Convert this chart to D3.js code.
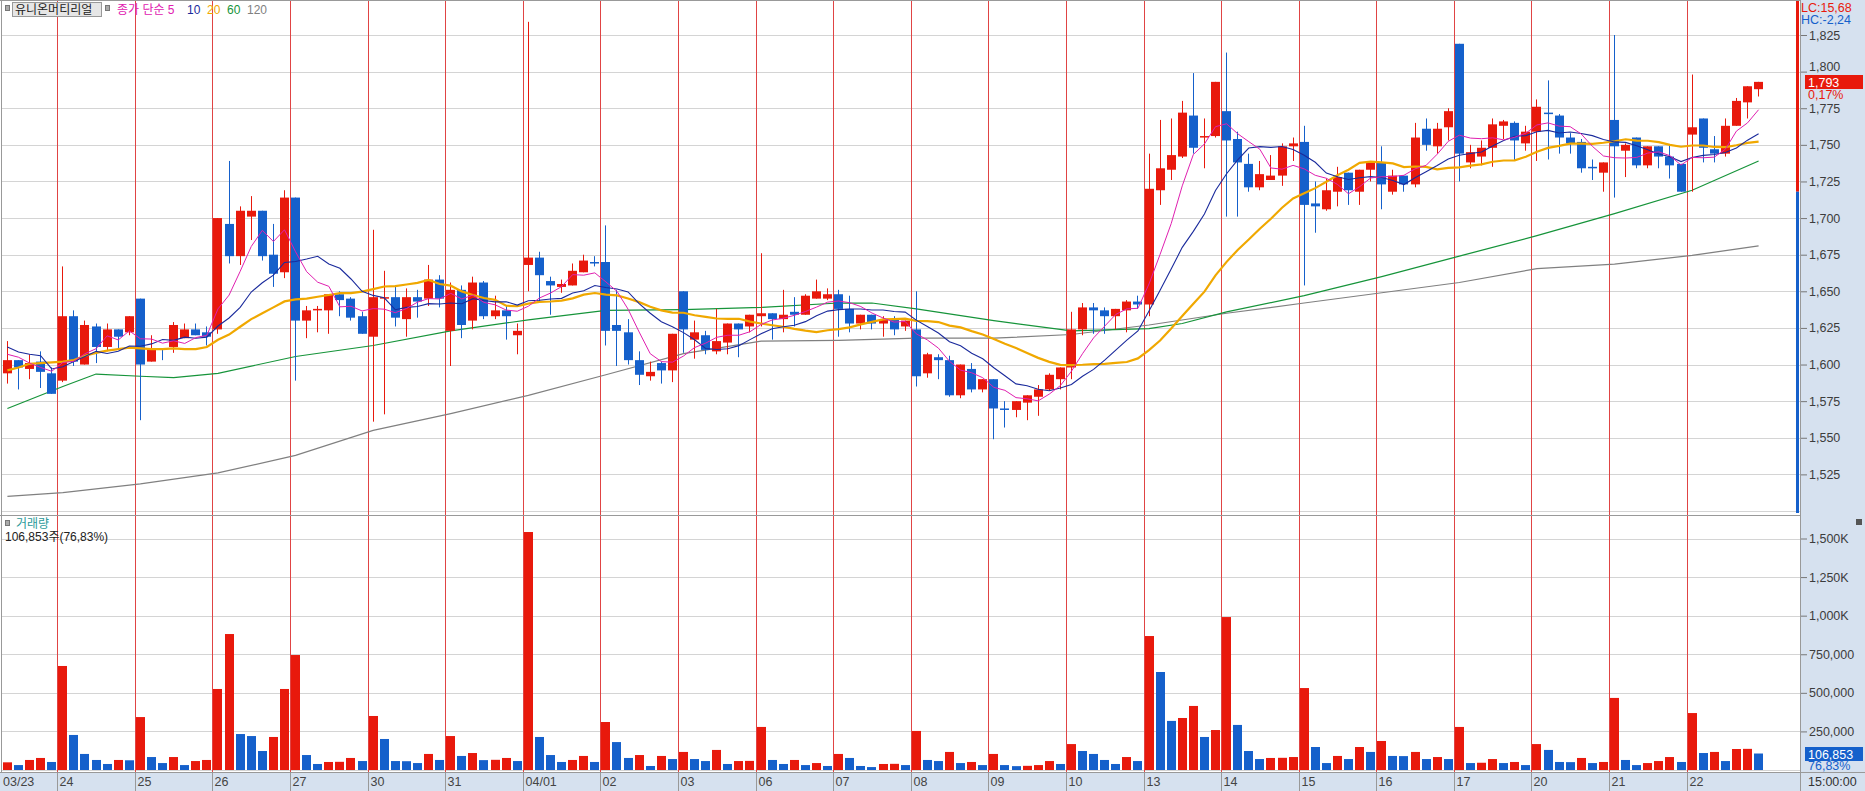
<!DOCTYPE html>
<html><head><meta charset="utf-8">
<script src="https://cdn.jsdelivr.net/npm/d3@7"></script>
<style>
html,body{margin:0;padding:0;background:#fff;overflow:hidden}
svg{display:block}
text{font-family:"Liberation Sans","Noto Sans CJK KR",sans-serif}
</style></head><body>
<svg id="c" width="1865" height="791"></svg>
<script>
// ---------------- DATA ----------------
const stockName = "유니온머티리얼";
const opens  = [1594,1603,1597,1602,1594,1589,1633,1600,1626,1612,1624,1622,1645,1602,1611,1612,1618,1624,1622,1624,1696,1674,1701,1705,1675,1663,1714,1630,1637,1637,1648,1645,1633,1619,1645,1646,1631,1646,1645,1658,1623,1651,1630,1656,1633,1637,1620,1668,1673,1657,1653,1654,1663,1670,1670,1627,1622,1603,1592,1601,1596,1650,1617,1620,1609,1615,1628,1626,1633,1635,1631,1636,1634,1645,1645,1648,1638,1628,1634,1628,1631,1626,1624,1594,1605,1603,1579,1597,1583,1590,1570,1569,1574,1578,1583,1590,1598,1624,1639,1637,1633,1637,1643,1641,1719,1733,1742,1770,1756,1756,1773,1754,1737,1721,1726,1729,1749,1752,1710,1706,1718,1731,1718,1733,1738,1718,1729,1723,1761,1749,1762,1819,1738,1742,1748,1763,1765,1751,1759,1772,1770,1755,1752,1735,1731,1767,1746,1755,1736,1749,1742,1737,1757,1768,1747,1744,1763,1779,1788];
const highs  = [1616,1603,1607,1609,1598,1667,1637,1630,1628,1628,1624,1633,1645,1620,1611,1629,1628,1628,1626,1700,1739,1708,1715,1705,1696,1719,1714,1640,1640,1648,1650,1646,1636,1692,1664,1654,1652,1651,1668,1661,1656,1654,1660,1657,1647,1640,1628,1834,1677,1660,1658,1669,1675,1674,1695,1651,1631,1609,1602,1602,1621,1650,1630,1623,1638,1628,1628,1634,1676,1635,1651,1646,1648,1658,1652,1651,1647,1634,1634,1633,1633,1630,1650,1608,1607,1606,1600,1601,1590,1590,1575,1575,1579,1586,1594,1598,1636,1642,1642,1639,1638,1644,1647,1744,1767,1768,1780,1799,1768,1793,1813,1759,1744,1739,1743,1751,1755,1763,1725,1727,1735,1731,1733,1738,1749,1733,1729,1765,1768,1765,1775,1819,1750,1753,1768,1767,1766,1763,1781,1794,1771,1758,1754,1740,1738,1825,1751,1755,1749,1749,1750,1737,1798,1768,1756,1768,1782,1790,1793];
const lows   = [1587,1583,1590,1584,1580,1588,1599,1600,1601,1609,1610,1620,1562,1602,1603,1608,1618,1620,1613,1621,1669,1668,1685,1671,1653,1659,1589,1618,1622,1621,1633,1630,1621,1561,1566,1626,1619,1632,1640,1639,1599,1618,1624,1631,1631,1617,1607,1650,1643,1634,1649,1654,1663,1667,1613,1599,1600,1586,1589,1587,1588,1608,1604,1607,1607,1607,1605,1622,1626,1617,1622,1626,1634,1645,1644,1619,1622,1624,1624,1619,1620,1623,1585,1591,1590,1578,1577,1581,1581,1549,1557,1564,1562,1565,1582,1583,1590,1620,1621,1621,1624,1622,1638,1633,1709,1726,1741,1744,1734,1755,1701,1701,1718,1719,1726,1722,1739,1654,1690,1705,1708,1709,1709,1725,1706,1716,1718,1721,1746,1744,1753,1725,1734,1736,1735,1754,1739,1746,1739,1740,1744,1744,1731,1726,1718,1714,1728,1734,1734,1734,1727,1718,1718,1738,1738,1742,1763,1768,1783];
const closes = [1603,1598,1601,1595,1580,1633,1602,1627,1612,1624,1619,1633,1600,1611,1610,1627,1624,1620,1619,1700,1674,1705,1705,1674,1662,1714,1630,1637,1638,1648,1644,1632,1621,1646,1646,1632,1646,1643,1658,1645,1651,1627,1656,1633,1637,1633,1623,1673,1661,1654,1655,1664,1671,1669,1623,1623,1603,1593,1595,1596,1621,1624,1622,1610,1616,1628,1624,1634,1635,1631,1634,1634,1647,1650,1648,1638,1628,1634,1628,1631,1624,1630,1592,1607,1603,1579,1600,1583,1590,1570,1569,1575,1579,1583,1593,1598,1624,1639,1637,1633,1638,1643,1641,1720,1734,1743,1772,1748,1756,1793,1753,1738,1721,1730,1729,1749,1751,1709,1708,1719,1728,1719,1733,1738,1723,1729,1723,1755,1750,1761,1773,1744,1745,1748,1764,1766,1753,1759,1776,1771,1755,1751,1734,1734,1738,1749,1750,1736,1749,1742,1736,1718,1762,1748,1744,1763,1780,1790,1793];
const volumes = [49700,32000,65000,78000,52000,674000,227000,104000,65000,39000,65000,63000,343000,84000,45000,84000,32000,58000,65000,525000,881000,233000,220000,123000,214000,525000,745000,97000,39000,52000,53000,78000,58000,350000,201000,58000,57000,45000,104000,65000,220000,91000,110000,64000,66000,78000,58000,1542000,214000,97000,52000,65000,91000,52000,311000,181000,78000,97000,26000,91000,71000,117000,71000,58000,130000,39000,58000,59000,279000,65000,39000,65000,32000,45000,26000,104000,78000,26000,19000,39000,40000,32000,253000,65000,58000,117000,45000,52000,32000,104000,32000,25000,27000,32000,58000,39000,168000,123000,104000,65000,39000,84000,58000,868000,635000,318000,337000,415000,214000,259000,991000,292000,123000,71000,78000,79000,84000,531000,149000,45000,91000,71000,149000,117000,188000,91000,90000,117000,71000,84000,71000,279000,45000,47000,71000,45000,52000,32000,168000,130000,52000,51000,78000,45000,52000,467000,65000,32000,45000,58000,84000,52000,369000,110000,117000,58000,136000,137000,106853];
// moving-average values for the first candles (their window starts before the chart)
const ma5Lead  = [1607,1605,1601,1598];
const ma10Lead = [1612,1608.5,1607,1606,1597,1598.5,1602,1605.5,1609];
const ma20Lead = [1596,1598,1600.5,1601,1601.5,1602,1603,1606,1608,1609.5,1610.5,1611.5,1611,1610.5,1610.5,1611,1610.5,1610.5,1612];
// long moving averages (candle index -> value)
const ma60Idx  = [0,5,8,12,15,19,26,33,40,47,54,61,68,75,78,82,89,96,103,106,110,117,124,131,138,145,152,158];
const ma60Val  = [1570,1585,1593.5,1592,1591,1594,1605.5,1613,1623,1630.5,1637,1637.5,1639,1642,1642,1638,1630,1623,1624.5,1628,1636,1647,1660,1674,1688,1703,1719,1739];
const ma120Idx = [0,5,12,19,26,33,40,47,54,61,68,75,82,89,96,103,110,117,124,131,138,145,152,158];
const ma120Val = [1510,1512.5,1518.5,1526,1538,1555,1566.5,1579,1593,1607.5,1616,1616.5,1618,1618,1620.5,1627,1635,1642,1649,1656,1665.5,1668.5,1674.5,1681];
const dayLabels = ["03/23","24","25","26","27","30","31","04/01","02","03","06","07","08","09","10","13","14","15","16","17","20","21","22"];
const dayCounts = [5,7,7,7,7,7,7,7,7,7,7,7,7,7,7,7,7,7,7,7,7,7,7];
const priceTicks = [1525,1550,1575,1600,1625,1650,1675,1700,1725,1750,1775,1800,1825];
const priceTickLabels = ["1,525","1,550","1,575","1,600","1,625","1,650","1,675","1,700","1,725","1,750","1,775","1,800","1,825"];
const volTicks = [250000,500000,750000,1000000,1250000,1500000];
const volTickLabels = ["250,000","500,000","750,000","1,000K","1,250K","1,500K"];
const maLegend = [["종가 단순 5","#e020b0"],["10","#1a2a9c"],["20","#f0a800"],["60","#16943a"],["120","#808080"]];
const lastPriceLabel = "1,793", lastChangeLabel = "0,17%";
const lcLabel = "LC:15,68", hcLabel = "HC:-2,24";
const volHeader = "거래량", volInfo = "106,853주(76,83%)";
const lastVolLabel = "106,853", lastVolPct = "76,83%";
const timeLabel = "15:00:00";

// ---------------- CHART ----------------
const RED = "#e8190c", BLUE = "#1560cb", AXISBG = "#d6e1ef", GRID = "#d4d4d4", SEP = "#e04444";
const PLOT_R = 1800;
const svg = d3.select("#c");
svg.append("rect").attr("width",1865).attr("height",791).attr("fill","#fff");
svg.append("rect").attr("x",PLOT_R).attr("y",0).attr("width",65).attr("height",791).attr("fill",AXISBG);

const n = closes.length;
const x = d3.scaleLinear().domain([0, n-1]).range([7.4, 1758.6]);
const y = d3.scaleLinear().domain([1500, 1825]).range([511, 35]);
const yv = d3.scaleLinear().domain([0, 1500000]).range([770, 538.5]);
const bx = i => Math.round(x(i) - 4.5);

// grids
const gGrid = svg.append("g");
gGrid.selectAll("line.pg").data(d3.range(1500, 1826, 25)).join("line")
  .attr("x1",2).attr("x2",PLOT_R).attr("y1",d=>Math.round(y(d))+0.5).attr("y2",d=>Math.round(y(d))+0.5)
  .attr("stroke",GRID);
gGrid.selectAll("line.vg").data([0].concat(volTicks)).join("line")
  .attr("x1",2).attr("x2",PLOT_R).attr("y1",d=>Math.round(yv(d))+0.5).attr("y2",d=>Math.round(yv(d))+0.5)
  .attr("stroke",GRID);

// day separators
const dayStarts = [];
dayCounts.reduce((acc,c)=>{dayStarts.push(acc); return acc+c;},0);
const sepX = s => bx(s) - 0.5;
svg.append("g").selectAll("line").data(dayStarts.slice(1)).join("line")
  .attr("x1",sepX).attr("x2",sepX).attr("y1",1).attr("y2",772)
  .attr("stroke",SEP).attr("stroke-width",1);

// panel borders
svg.append("line").attr("x1",0).attr("x2",PLOT_R).attr("y1",0.5).attr("y2",0.5).attr("stroke","#999");
svg.append("line").attr("x1",1.5).attr("x2",1.5).attr("y1",0).attr("y2",772).attr("stroke","#999");
svg.append("line").attr("x1",0).attr("x2",PLOT_R).attr("y1",515.5).attr("y2",515.5).attr("stroke","#999");
svg.append("line").attr("x1",PLOT_R+0.5).attr("x2",PLOT_R+0.5).attr("y1",0).attr("y2",791).attr("stroke","#999");

// long MAs (behind candles)
const line = d3.line().x(d=>x(d[0])).y(d=>y(d[1]));
svg.append("path").attr("d", line(ma120Idx.map((k,j)=>[k,ma120Val[j]]))).attr("fill","none").attr("stroke","#808080").attr("stroke-width",1.2);
svg.append("path").attr("d", line(ma60Idx.map((k,j)=>[k,ma60Val[j]]))).attr("fill","none").attr("stroke","#16943a").attr("stroke-width",1.2);

// candles
const idx = d3.range(n);
const gC = svg.append("g");
gC.selectAll("line").data(idx).join("line")
  .attr("x1",i=>bx(i)+4.5).attr("x2",i=>bx(i)+4.5)
  .attr("y1",i=>y(highs[i])).attr("y2",i=>y(lows[i]))
  .attr("stroke",i=>closes[i]>=opens[i]?RED:BLUE).attr("stroke-width",1);
gC.selectAll("rect").data(idx).join("rect")
  .attr("x",bx).attr("width",9)
  .attr("y",i=>y(Math.max(opens[i],closes[i])))
  .attr("height",i=>Math.max(1.5, Math.abs(y(opens[i])-y(closes[i]))))
  .attr("fill",i=>closes[i]>=opens[i]?RED:BLUE);

// short MAs: simple moving averages of the closes; leading values
function sma(p, lead){ return closes.map((c,i)=> i < p-1 ? lead[i] : d3.mean(closes.slice(i-p+1, i+1))); }
[[20,ma20Lead,"#f0a800",2.2],[10,ma10Lead,"#1a2a9c",1.1],[5,ma5Lead,"#e020b0",1]].forEach(([p,lead,col,w])=>{
  const m = sma(p, lead);
  svg.append("path").attr("d", line(m.map((v,i)=>[i,v]))).attr("fill","none").attr("stroke",col).attr("stroke-width",w);
});

// volume bars
svg.append("g").selectAll("rect").data(idx).join("rect")
  .attr("x",bx).attr("width",9)
  .attr("y",i=>yv(volumes[i])).attr("height",i=>770-yv(volumes[i]))
  .attr("fill",i=>(i===0||volumes[i]>volumes[i-1])?RED:BLUE);

// right side red/blue bar (above/below previous day close)
const prevClose = closes[dayStarts[dayStarts.length-1]-1];
svg.append("rect").attr("x",1796).attr("y",1).attr("width",3).attr("height",y(prevClose)-1).attr("fill",RED);
svg.append("rect").attr("x",1796).attr("y",y(prevClose)).attr("width",3).attr("height",513-y(prevClose)).attr("fill",BLUE);

// price axis
const gPA = svg.append("g").attr("transform",`translate(${PLOT_R+1},0)`);
gPA.call(d3.axisRight(y).tickValues(d3.range(1500,1846,5)).tickSize(3).tickFormat(""));
gPA.call(d3.axisRight(y).tickValues(priceTicks).tickSize(6).tickPadding(2).tickFormat((d,i)=>priceTickLabels[i]));
gPA.selectAll(".domain").remove();
gPA.selectAll("line").attr("stroke","#777");
gPA.selectAll("text").attr("font-size",12.5).attr("fill","#3c3c3c").attr("font-family","Liberation Sans");
// the last-price box sits over the 1,800 label: lift that label a little
gPA.selectAll(".tick").filter(d=>d===1800).select("text").attr("dy","-0.05em");

// volume axis
const gVA = svg.append("g").attr("transform",`translate(${PLOT_R+1},0)`);
gVA.call(d3.axisRight(yv).tickValues(d3.range(50000,1650001,50000)).tickSize(3).tickFormat(""));
gVA.call(d3.axisRight(yv).tickValues(volTicks).tickSize(6).tickPadding(2).tickFormat((d,i)=>volTickLabels[i]));
gVA.selectAll(".domain").remove();
gVA.selectAll("line").attr("stroke","#777");
gVA.selectAll("text").attr("font-size",12.5).attr("fill","#3c3c3c");

// last price box
const yl = y(closes[n-1]);
svg.append("rect").attr("x",1805).attr("y",Math.round(yl)-7).attr("width",58).attr("height",14).attr("fill",RED);
svg.append("text").attr("x",1808).attr("y",Math.round(yl)+5).attr("font-size",12.5).attr("fill","#fff").text(lastPriceLabel);
svg.append("text").attr("x",1808).attr("y",Math.round(yl)+17).attr("font-size",12.5).attr("fill",RED).text(lastChangeLabel);
svg.append("text").attr("x",1801).attr("y",12).attr("font-size",12.5).attr("fill",RED).text(lcLabel);
svg.append("text").attr("x",1801).attr("y",24).attr("font-size",12.5).attr("fill",BLUE).text(hcLabel);

// last volume box
const yvl = yv(volumes[n-1]);
svg.append("rect").attr("x",1805).attr("y",Math.round(yvl)-7).attr("width",58).attr("height",14).attr("fill",BLUE);
svg.append("text").attr("x",1808).attr("y",Math.round(yvl)+5).attr("font-size",12.5).attr("fill","#fff").text(lastVolLabel);
svg.append("text").attr("x",1808).attr("y",Math.round(yvl)+16).attr("font-size",12.5).attr("fill",BLUE).text(lastVolPct);
svg.append("rect").attr("x",1856).attr("y",519).attr("width",6).attr("height",6).attr("fill","#555");

// date strip
svg.append("rect").attr("x",0).attr("y",772).attr("width",PLOT_R).attr("height",19).attr("fill",AXISBG);
svg.append("line").attr("x1",0).attr("x2",1865).attr("y1",772.5).attr("y2",772.5).attr("stroke","#999");
svg.append("g").selectAll("line").data(dayStarts.slice(1)).join("line")
  .attr("x1",sepX).attr("x2",sepX).attr("y1",772).attr("y2",791).attr("stroke","#999");
svg.append("g").selectAll("text").data(dayStarts).join("text")
  .attr("x",(s,k)=>k===0?3:sepX(s)+2).attr("y",786).attr("font-size",12.5).attr("fill","#444")
  .text((s,k)=>dayLabels[k]);
svg.append("text").attr("x",1808).attr("y",786).attr("font-size",12.5).attr("fill","#333").text(timeLabel);

// header legend
svg.append("rect").attr("x",5.5).attr("y",5.5).attr("width",4).attr("height",5).attr("fill","#aaa").attr("stroke","#777");
svg.append("rect").attr("x",12.5).attr("y",2.5).attr("width",89).attr("height",14).attr("fill","#e6e6e6").attr("stroke","#999");
svg.append("text").attr("x",15).attr("y",14).attr("font-size",12).attr("fill","#222").attr("font-family","Noto Sans CJK KR").text(stockName);
svg.append("rect").attr("x",105.5).attr("y",5.5).attr("width",4).attr("height",5).attr("fill","#aaa").attr("stroke","#777");
const legX = [117,187,207,227,247];
maLegend.forEach(([t,c],k)=>{
  svg.append("text").attr("x",legX[k]).attr("y",14).attr("font-size",12).attr("fill",c).text(t);
});

// volume header
svg.append("rect").attr("x",5.5).attr("y",520.5).attr("width",4).attr("height",5).attr("fill","#aaa").attr("stroke","#777");
svg.append("text").attr("x",16).attr("y",528).attr("font-size",12).attr("fill","#2a9a9a").text(volHeader);
svg.append("text").attr("x",5).attr("y",541).attr("font-size",12).attr("fill","#222").text(volInfo);
</script>
</body></html>
